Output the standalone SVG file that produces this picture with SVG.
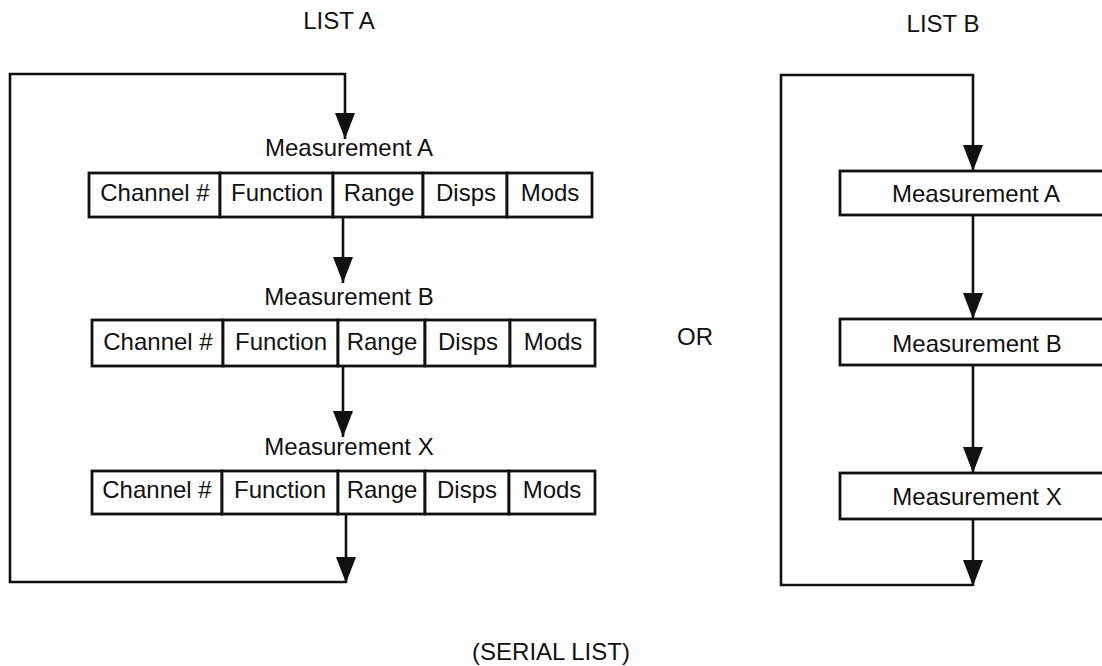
<svg xmlns="http://www.w3.org/2000/svg" width="1102" height="666" viewBox="0 0 1102 666">
  <style>
    text { font-family: "Liberation Sans", Arial, Helvetica, sans-serif; fill: #111; }
    .lbl { font-size: 24px; text-anchor: middle; }
    .cell { fill: #fff; stroke: #111; stroke-width: 2.8; }
    .wire { fill: none; stroke: #111; stroke-width: 2.6; }
  </style>
  <defs>
    <marker id="arrow" viewBox="0 0 26 20" refX="26" refY="10" markerWidth="26" markerHeight="20" markerUnits="userSpaceOnUse" orient="auto">
      <path d="M0,0 L26,10 L0,20 Z" fill="#111"/>
    </marker>
  </defs>
  <rect width="1102" height="666" fill="#fff"/>

  <!-- headings -->
  <g id="titles">
    <text class="lbl" x="339" y="29">LIST A</text>
    <text class="lbl" x="943" y="32">LIST B</text>
    <text class="lbl" x="695" y="345">OR</text>
    <text class="lbl" x="551" y="660">(SERIAL LIST)</text>
  </g>

  <!-- connectors -->
  <g id="connectors">
    <path class="wire" d="M346,582 H10 V74 H345 V139" marker-end="url(#arrow)"/>
    <path class="wire" d="M343,217 V283" marker-end="url(#arrow)"/>
    <path class="wire" d="M343,366 V437" marker-end="url(#arrow)"/>
    <path class="wire" d="M346,514 V583" marker-end="url(#arrow)"/>

    <path class="wire" d="M973,585 H781 V75 H973 V171" marker-end="url(#arrow)"/>
    <path class="wire" d="M973,215 V319" marker-end="url(#arrow)"/>
    <path class="wire" d="M973,365 V473" marker-end="url(#arrow)"/>
    <path class="wire" d="M973,519 V586" marker-end="url(#arrow)"/>
  </g>

  <!-- List A: records with five fields -->
  <g id="list-a-measurement-a">
    <text class="lbl" x="349" y="156">Measurement A</text>
    <rect class="cell" x="89" y="173" width="131" height="44"/>
    <rect class="cell" x="220" y="173" width="113" height="44"/>
    <rect class="cell" x="333" y="173" width="90" height="44"/>
    <rect class="cell" x="423" y="173" width="84" height="44"/>
    <rect class="cell" x="507" y="173" width="85" height="44"/>
    <text class="lbl" x="155" y="201">Channel #</text>
    <text class="lbl" x="277" y="201">Function</text>
    <text class="lbl" x="379" y="201">Range</text>
    <text class="lbl" x="466" y="201">Disps</text>
    <text class="lbl" x="550" y="201">Mods</text>
  </g>

  <g id="list-a-measurement-b">
    <text class="lbl" x="349" y="305">Measurement B</text>
    <rect class="cell" x="92" y="320" width="131" height="46"/>
    <rect class="cell" x="223" y="320" width="115" height="46"/>
    <rect class="cell" x="338" y="320" width="87" height="46"/>
    <rect class="cell" x="425" y="320" width="85" height="46"/>
    <rect class="cell" x="510" y="320" width="85" height="46"/>
    <text class="lbl" x="158" y="350">Channel #</text>
    <text class="lbl" x="281" y="350">Function</text>
    <text class="lbl" x="382" y="350">Range</text>
    <text class="lbl" x="468" y="350">Disps</text>
    <text class="lbl" x="553" y="350">Mods</text>
  </g>

  <g id="list-a-measurement-x">
    <text class="lbl" x="349" y="455">Measurement X</text>
    <rect class="cell" x="92" y="471" width="130" height="43"/>
    <rect class="cell" x="222" y="471" width="116" height="43"/>
    <rect class="cell" x="338" y="471" width="87" height="43"/>
    <rect class="cell" x="425" y="471" width="84" height="43"/>
    <rect class="cell" x="509" y="471" width="86" height="43"/>
    <text class="lbl" x="157" y="498">Channel #</text>
    <text class="lbl" x="280" y="498">Function</text>
    <text class="lbl" x="382" y="498">Range</text>
    <text class="lbl" x="467" y="498">Disps</text>
    <text class="lbl" x="552" y="498">Mods</text>
  </g>

  <!-- List B: one box per measurement, running off the right edge -->
  <g id="list-b-measurement-a">
    <rect class="cell" x="840" y="171" width="280" height="44"/>
    <text class="lbl" x="976" y="202">Measurement A</text>
  </g>
  <g id="list-b-measurement-b">
    <rect class="cell" x="840" y="319" width="280" height="46"/>
    <text class="lbl" x="977" y="352">Measurement B</text>
  </g>
  <g id="list-b-measurement-x">
    <rect class="cell" x="840" y="473" width="280" height="46"/>
    <text class="lbl" x="977" y="505">Measurement X</text>
  </g>
</svg>
